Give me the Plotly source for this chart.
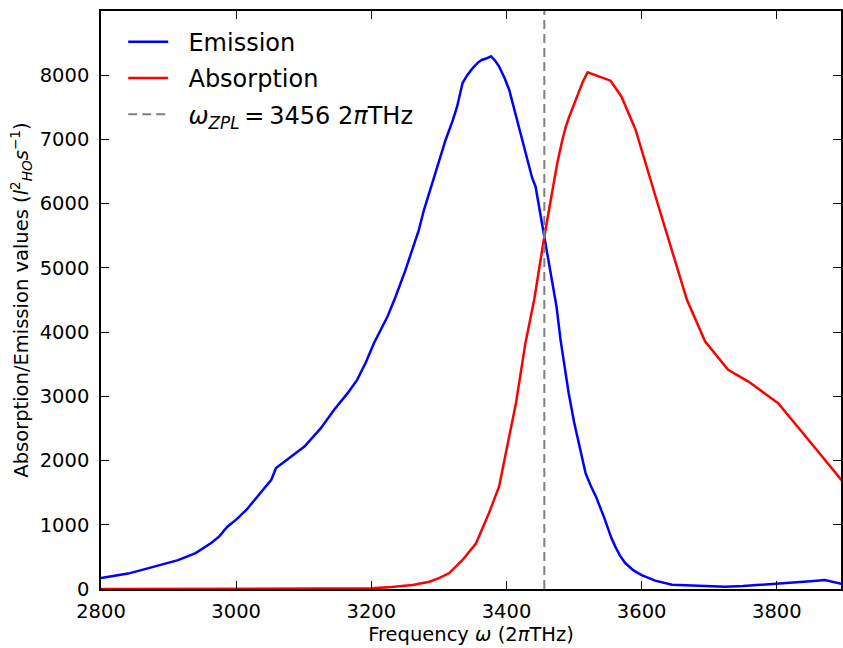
import plotly.graph_objects as go

# Emission (blue)
em_x = [2800, 2820, 2840, 2865, 2890, 2914, 2940, 2963, 2975, 2987, 3000, 3015, 3030, 3045,
        3052, 3059, 3080, 3101, 3125, 3145, 3165, 3179, 3192, 3204, 3224, 3236, 3250, 3261,
        3270, 3278, 3295, 3310, 3320, 3327, 3335, 3342, 3350, 3358, 3364, 3370, 3377, 3383,
        3389, 3397, 3404, 3411, 3418, 3426, 3433, 3438, 3443, 3449, 3455, 3462, 3468, 3474,
        3480, 3486, 3492, 3500, 3508, 3517, 3525, 3532, 3545, 3555, 3561, 3568, 3576, 3588,
        3600, 3620, 3645, 3670, 3700, 3724, 3750, 3780, 3802, 3830, 3850, 3871, 3885, 3900]
em_y = [170, 200, 240, 310, 380, 450, 560, 715, 820, 970, 1080, 1230, 1420, 1600,
        1700, 1885, 2050, 2217, 2500, 2790, 3050, 3256, 3530, 3830, 4243, 4554, 4950, 5282,
        5580, 5905, 6477, 6996, 7280, 7514, 7879, 8000, 8112, 8200, 8242, 8260, 8294, 8230,
        8138, 7960, 7774, 7500, 7203, 6900, 6632, 6400, 6268, 5900, 5542, 5150, 4763, 4400,
        3880, 3450, 3053, 2600, 2200, 1804, 1600, 1450, 1100, 800, 660, 520, 400, 290,
        215, 130, 65, 55, 50, 36, 45, 65, 88, 100, 120, 140, 110, 70]

# Absorption (red)
ab_x = [2800, 2900, 3000, 3100, 3150, 3200, 3230, 3261, 3286, 3300, 3315, 3335, 3355, 3374,
        3389, 3399, 3414, 3428, 3441, 3456, 3462, 3468, 3475, 3482, 3487, 3492, 3500, 3507,
        3513, 3520, 3554, 3570, 3591, 3625, 3650, 3667, 3694, 3728, 3758, 3802, 3851, 3871, 3900]
ab_y = [0, 0, 0, 0, 2, 10, 30, 62, 114, 170, 244, 452, 712, 1179,
        1594, 2114, 2893, 3828, 4503, 5489, 5850, 6165, 6620, 6960, 7170, 7330, 7540, 7723,
        7900, 8044, 7915, 7670, 7151, 5956, 5074, 4503, 3853, 3412, 3230, 2893, 2270, 2010, 1640]

zpl = 3456
x_ticks = [2800, 3000, 3200, 3400, 3600, 3800]
y_ticks = [0, 1000, 2000, 3000, 4000, 5000, 6000, 7000, 8000, 9000]

FONT = "DejaVu Sans"
PAD = "&nbsp;&nbsp;"

fig = go.Figure()
fig.add_trace(go.Scatter(x=em_x, y=em_y, mode="lines", name=PAD + "Emission",
                         line=dict(color="#0000ff", width=2.5), legendgroup="a"))
fig.add_trace(go.Scatter(x=ab_x, y=ab_y, mode="lines", name=PAD + "Absorption",
                         line=dict(color="#ff0000", width=2.5), legendgroup="b"))
fig.add_trace(go.Scatter(x=[zpl, zpl], y=[0, 9000], mode="lines",
                         name=PAD + "<i>ω</i><sub><i>ZPL</i></sub>\u2009=\u20093456 2<i>π</i>THz",
                         line=dict(color="#808080", width=2, dash="9px,5px"), legendgroup="c"))

axis_common = dict(showline=True, linecolor="black", linewidth=1.5, mirror="ticks",
                   ticks="inside", ticklen=8, tickwidth=1, tickcolor="black",
                   showgrid=False, zeroline=False,
                   tickfont=dict(family=FONT, size=19.5, color="black"))

fig.update_layout(
    width=843, height=648,
    margin=dict(l=101, r=0, t=11, b=59),
    paper_bgcolor="white", plot_bgcolor="white",
    font=dict(family=FONT, color="black"),
    xaxis=dict(range=[2800, 3895], tickvals=x_ticks, ticklabelstandoff=4,
               title=dict(text="Frequency <i>ω</i> (2<i>π</i>THz)", font=dict(family=FONT, size=19.5),
                          standoff=4),
               **axis_common),
    yaxis=dict(range=[0, 9000], tickvals=y_ticks, ticklabelstandoff=6,
               title=dict(text="Absorption/Emission values (<i>l</i><sup>2</sup><sub><i>HO</i></sub><i>s</i><sup>−1</sup>)",
                          font=dict(family=FONT, size=19.5), standoff=6),
               **axis_common),
    legend=dict(x=0.03, y=0.985, xanchor="left", yanchor="top", bgcolor="rgba(0,0,0,0)",
                borderwidth=0, font=dict(family=FONT, size=24), tracegroupgap=2,
                itemwidth=40),
    showlegend=True,
)

fig.write_html("out.html")
